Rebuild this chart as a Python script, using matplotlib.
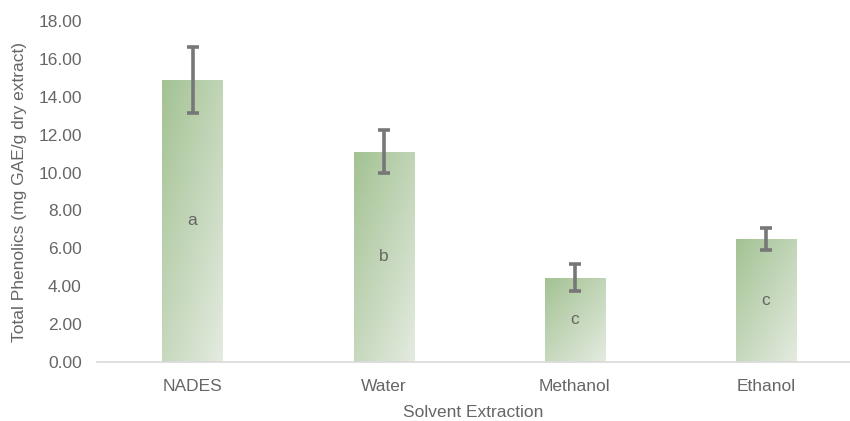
import numpy as np
import matplotlib
matplotlib.use("Agg")
from matplotlib import pyplot as plt
from matplotlib.colors import LinearSegmentedColormap

plt.rcParams['font.family'] = ['Liberation Sans', 'DejaVu Sans']

solvents = ['NADES', 'Water', 'Methanol', 'Ethanol']
phenolics = [14.9, 11.1, 4.45, 6.5]
errors = [1.75, 1.13, 0.7, 0.57]
letters = ['a', 'b', 'c', 'c']

fig = plt.figure(figsize=(8.5, 4.21), dpi=100)
ax = fig.add_axes([97/850, 1 - 362/421, 1 - 97/850, 341/421])

x = np.arange(len(solvents))
bars = ax.bar(x, phenolics, width=0.315, color='none', zorder=2)

# diagonal gradient, dark top-left -> light bottom-right
cmap = LinearSegmentedColormap.from_list('g', ['#a3c293', '#e4ebe0'])
gx, gy = np.meshgrid(np.linspace(0, 1, 60), np.linspace(0, 1, 200))
for b in bars:
    x0, w, h = b.get_x(), b.get_width(), b.get_height()
    grad = 0.45 * gx + 0.55 * gy
    im = ax.imshow(grad, cmap=cmap, extent=[x0, x0 + w, 0, h], origin='upper',
                   aspect='auto', zorder=1, vmin=0, vmax=1)
    im.set_clip_path(b)

ax.errorbar(x, phenolics, yerr=errors, fmt='none', ecolor='#777777',
            elinewidth=2.6, capsize=4, capthick=2.6, zorder=3)

txt = '#666666'
for xi, v, l in zip(x, phenolics, letters):
    ax.text(xi, v / 2, l, ha='center', va='center', fontsize=12.5, color=txt)

ax.set_xlim(-0.5, 3.44)
ax.set_ylim(0, 18)
ax.set_yticks(np.arange(0, 18.1, 2))
ax.set_yticklabels(['%.2f' % v for v in np.arange(0, 18.1, 2)])
ax.set_xticks(x)
ax.set_xticklabels(solvents)
ax.tick_params(length=0, labelsize=12.5, colors=txt)
ax.tick_params(axis='x', pad=12)
ax.tick_params(axis='y', pad=11)
for s in ['top', 'right', 'left']:
    ax.spines[s].set_visible(False)
ax.spines['bottom'].set_color('#d9d9d9')
ax.spines['bottom'].set_linewidth(1.2)

ax.set_xlabel('Solvent Extraction', fontsize=12.5, color=txt, labelpad=8)
ax.set_ylabel('Total Phenolics (mg GAE/g dry extract)', fontsize=12.5, color=txt, labelpad=8)

fig.savefig('out.png', dpi=100)
